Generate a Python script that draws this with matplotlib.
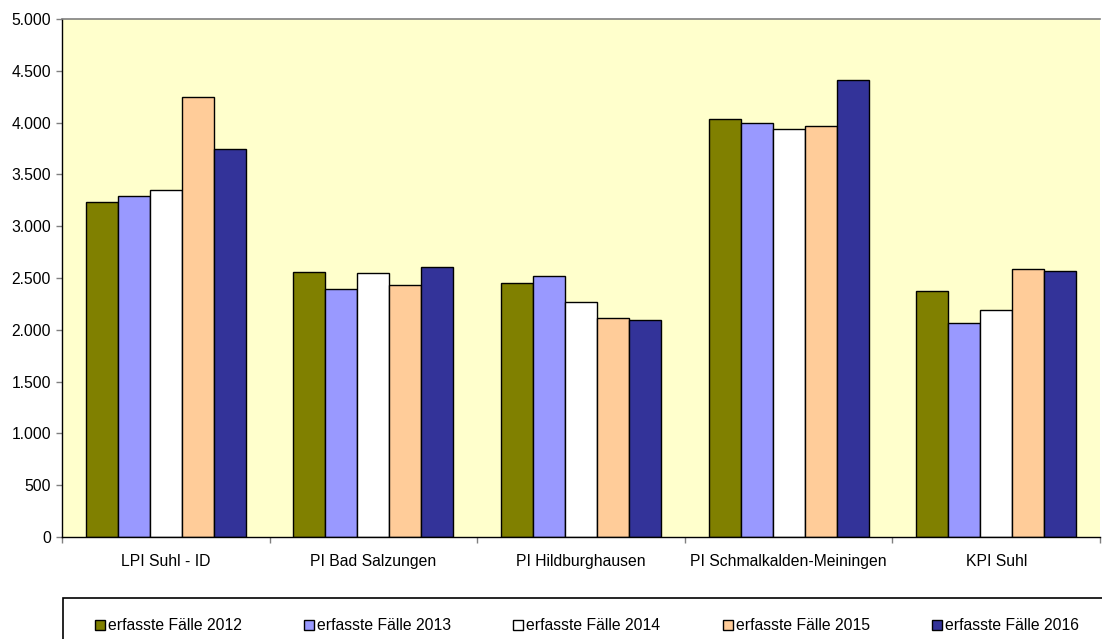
import numpy as np
import matplotlib
matplotlib.use("Agg")
import matplotlib.pyplot as plt
from matplotlib.patches import Rectangle
from matplotlib.ticker import FuncFormatter, FixedLocator

plt.rcParams["font.family"] = ["Liberation Sans", "DejaVu Sans"]
plt.rcParams["font.size"] = 11.3

# data
categories = ["LPI Suhl - ID", "PI Bad Salzungen", "PI Hildburghausen",
              "PI Schmalkalden-Meiningen", "KPI Suhl"]
series_labels = ["erfasste Fälle 2012", "erfasste Fälle 2013", "erfasste Fälle 2014",
                 "erfasste Fälle 2015", "erfasste Fälle 2016"]
values_2012 = [3232, 2562, 2452, 4035, 2374]
values_2013 = [3293, 2398, 2517, 4000, 2065]
values_2014 = [3351, 2552, 2268, 3942, 2188]
values_2015 = [4245, 2430, 2110, 3968, 2588]
values_2016 = [3745, 2607, 2091, 4413, 2572]
series = [values_2012, values_2013, values_2014, values_2015, values_2016]
colors = ["#808000", "#9999FF", "#FFFFFF", "#FFCC99", "#333399"]

W, H = 1102, 639
fig = plt.figure(figsize=(W / 100, H / 100), dpi=100)
ax = fig.add_axes([62 / W, (H - 537) / H, (1100 - 62) / W, (537 - 19) / H])
ax.set_facecolor("#FFFFCC")

x = np.arange(len(categories))
width = 0.154
handles = []
for i, (vals, color, label) in enumerate(zip(series, colors, series_labels)):
    b = ax.bar(x + (i - 2) * width, vals, width, color=color, edgecolor="black",
               linewidth=1.0, label=label, zorder=2)
    handles.append(b)

ax.set_xlim(-0.5, len(categories) - 0.5)
ax.set_ylim(0, 5000)
ax.set_yticks(np.arange(0, 5001, 500))
ax.yaxis.set_major_formatter(FuncFormatter(lambda v, p: f"{int(v):,}".replace(",", ".")))

# tick marks on category boundaries, labels at centres
ax.xaxis.set_major_locator(FixedLocator(np.arange(-0.5, len(categories), 1.0)))
ax.xaxis.set_minor_locator(FixedLocator(x))
ax.set_xticklabels([], minor=False)
ax.set_xticklabels(categories, minor=True)
ax.tick_params(axis="x", which="major", length=4, width=1, color="#808080")
ax.tick_params(axis="x", which="minor", length=0, pad=12.5)
ax.tick_params(axis="y", length=4, width=1, pad=4, color="#808080")

for side in ["left", "bottom"]:
    ax.spines[side].set_color("black")
    ax.spines[side].set_linewidth(1)
ax.spines["right"].set_visible(False)
ax.spines["top"].set_color("#808080")
ax.spines["top"].set_linewidth(1.2)

# legend frame (runs off the figure edge)
fig.patches.append(Rectangle((63 / W, -0.05), 1.1, (H - 598) / H + 0.05,
                             transform=fig.transFigure, fill=False,
                             edgecolor="black", linewidth=1.2))
fig.legend(handles=handles, labels=series_labels, loc="center left",
           bbox_to_anchor=(87 / W, (H - 626) / H), ncol=5, frameon=False,
           borderpad=0, handlelength=0.64, handleheight=0.64,
           handletextpad=0.2, columnspacing=3.95, fontsize=11.3)

fig.savefig("out.png", dpi=100)
